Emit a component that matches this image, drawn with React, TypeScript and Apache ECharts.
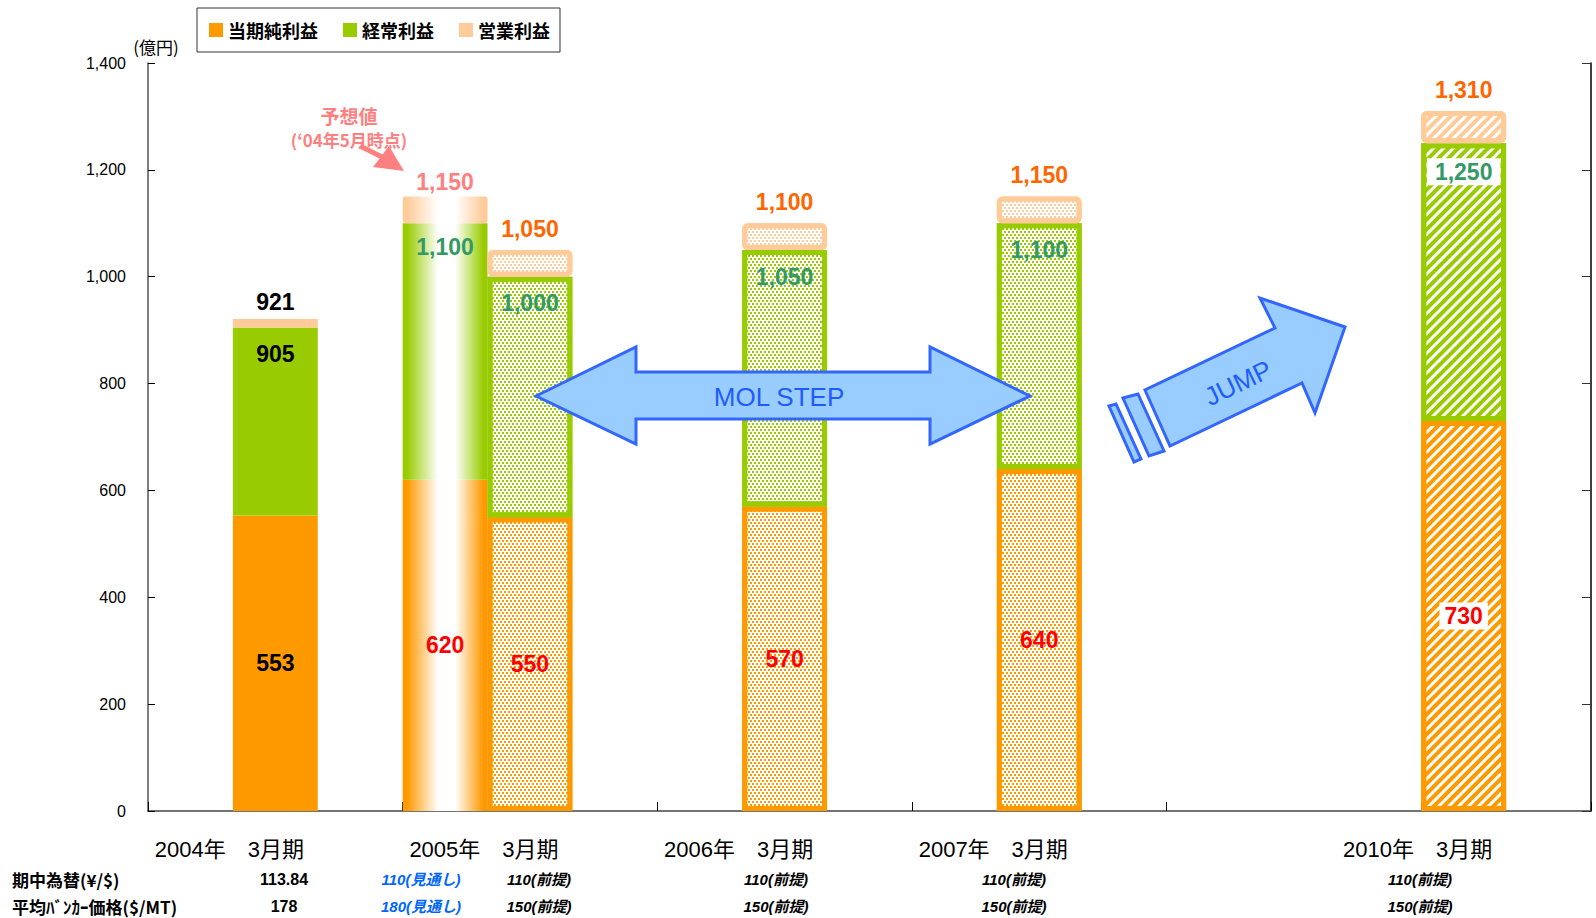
import React, { useEffect, useRef } from 'react';
import * as echarts from 'echarts';

// ---- data ----
const categories = ['', '2004年　3月期', '', '', '2005年　3月期', '', '', '2006年　3月期', '', '', '2007年　3月期', '', '', '', '', '2010年　3月期', ''];
const netProfit = [null, 553, null, 620, 550, null, null, 570, null, null, 640, null, null, null, null, 730, null];
const ordinaryProfit = [null, 905, null, 1100, 1000, null, null, 1050, null, null, 1100, null, null, null, null, 1250, null];
const operatingProfit = [null, 921, null, 1150, 1050, null, null, 1100, null, null, 1150, null, null, null, null, 1310, null];
const seriesNames = ['当期純利益', '経常利益', '営業利益'];
const fxRow = ['113.84', '110(見通し)', '110(前提)', '110(前提)', '110(前提)', '110(前提)'];
const bunkerRow = ['178', '180(見通し)', '150(前提)', '150(前提)', '150(前提)', '150(前提)'];
const rowTitles = ['期中為替(¥/$)', '平均ﾊﾞﾝｶｰ価格($/MT)'];

// ---- styles (kept apart from data) ----
const barKinds = ['', 'solid', '', 'forecast', 'dots', '', '', 'dots', '', '', 'dots', '', '', '', '', 'hatch', ''];
const rowKinds = ['actual', 'outlook', 'premise', 'premise', 'premise', 'premise'];
const rowX = [284, 421, 539, 776, 1014, 1420];
const COLORS = ['#FF9900', '#99CC00', '#FFCC99'];
const LATIN = 'Liberation Sans, Arial, Noto Sans CJK JP, sans-serif';
const CJK = 'Noto Sans CJK JP, sans-serif';

const fmt = (v: number) => v.toLocaleString('en-US');

function itemStyleFor(kind: string, c: string, isCap: boolean): any {
  if (kind === 'solid') return { color: c };
  if (kind === 'forecast') {
    return {
      color: {
        type: 'linear', x: 0, y: 0, x2: 1, y2: 0,
        colorStops: [
          { offset: 0, color: c }, { offset: 0.05, color: c },
          { offset: 0.42, color: '#ffffff' }, { offset: 0.62, color: '#ffffff' },
          { offset: 0.95, color: c }, { offset: 1, color: c },
        ],
      },
      borderRadius: isCap ? 3 : 0,
    };
  }
  if (kind === 'dots') {
    return {
      color: '#ffffff', borderColor: c, borderWidth: 5, borderRadius: isCap ? 3 : 0,
      decal: { symbol: 'rect', symbolSize: 1, color: c, dashArrayX: [[2, 2], [0, 2, 2, 0]], dashArrayY: [2, 1], rotation: 0 },
    };
  }
  return {
    color: '#ffffff', borderColor: c, borderWidth: 5, borderRadius: isCap ? 3 : 0,
    decal: { symbol: 'rect', symbolSize: 1, color: c, dashArrayX: [1, 0], dashArrayY: [4, 3], rotation: -Math.PI / 4 },
  };
}

const labelBase = { fontSize: 23, fontWeight: 'bold', fontFamily: LATIN };

function buildSeries() {
  const net = netProfit.map((v, i) => {
    if (v == null) return null;
    const kind = barKinds[i];
    return {
      value: v,
      itemStyle: itemStyleFor(kind, COLORS[0], false),
      label: {
        show: true, position: 'inside', ...labelBase,
        color: kind === 'solid' ? '#000000' : '#FF0000',
        formatter: fmt(v),
        backgroundColor: kind === 'hatch' ? '#ffffff' : 'transparent',
        padding: kind === 'hatch' ? [2, 5] : 0,
      },
    };
  });
  const ord = ordinaryProfit.map((v, i) => {
    const n = netProfit[i];
    if (v == null || n == null) return null;
    const kind = barKinds[i];
    return {
      value: v - n,
      itemStyle: itemStyleFor(kind, COLORS[1], false),
      label: {
        show: true, position: 'insideTop', distance: kind === 'forecast' ? 12 : 15, ...labelBase,
        color: kind === 'solid' ? '#000000' : '#339966',
        formatter: fmt(v),
        backgroundColor: kind === 'hatch' ? '#ffffff' : 'transparent',
        padding: kind === 'hatch' ? [2, 8] : 0,
      },
    };
  });
  const op = operatingProfit.map((v, i) => {
    const o = ordinaryProfit[i];
    if (v == null || o == null) return null;
    const kind = barKinds[i];
    return {
      value: v - o,
      itemStyle: itemStyleFor(kind, COLORS[2], true),
      label: {
        show: true, position: 'top',
        distance: kind === 'solid' ? 5 : kind === 'forecast' ? 3 : 10, ...labelBase,
        color: kind === 'solid' ? '#000000' : kind === 'forecast' ? '#FF8080' : '#FF6600',
        formatter: fmt(v),
      },
    };
  });
  return [net, ord, op].map((data, k) => ({
    name: seriesNames[k],
    type: 'bar',
    stack: 'profit',
    barCategoryGap: '0%',
    itemStyle: { color: COLORS[k] },
    data,
  }));
}

function buildGraphics() {
  const g: any[] = [];
  g.push({ type: 'text', x: 156, y: 46, style: { text: '(億円)', fontSize: 17, fontFamily: CJK, fill: '#000', align: 'center', verticalAlign: 'middle', textAlign: 'center', textVerticalAlign: 'middle' } });
  // forecast note
  const pink = '#FF8080';
  g.push({ type: 'text', x: 349, y: 115, z: 100, style: { text: '予想値', fontSize: 19, fontWeight: 'bold', fontFamily: CJK, fill: pink, align: 'center', verticalAlign: 'middle', textAlign: 'center', textVerticalAlign: 'middle' } });
  g.push({ type: 'text', x: 349, y: 139, z: 100, style: { text: '(‘04年5月時点)', fontSize: 17, fontWeight: 'bold', fontFamily: CJK, fill: pink, align: 'center', verticalAlign: 'middle', textAlign: 'center', textVerticalAlign: 'middle' } });
  g.push({ type: 'line', z: 100, shape: { x1: 360, y1: 146, x2: 388, y2: 160 }, style: { stroke: pink, lineWidth: 5 } });
  g.push({ type: 'polygon', z: 100, shape: { points: [[404, 171], [373, 167], [389, 146]] }, style: { fill: pink } });
  // MOL STEP double arrow
  const blueFill = '#99CCFF';
  const blueLine = '#3366FF';
  g.push({
    type: 'polygon', z: 100,
    shape: { points: [[536, 396], [636, 347], [636, 372], [930, 372], [930, 347], [1030, 396], [930, 444], [930, 419], [636, 419], [636, 444]] },
    style: { fill: blueFill, stroke: blueLine, lineWidth: 3, lineJoin: 'miter' },
  });
  g.push({ type: 'text', x: 779, y: 397, z: 101, style: { text: 'MOL STEP', fontSize: 26, fontFamily: LATIN, fill: '#1F5CFF', align: 'center', verticalAlign: 'middle', textAlign: 'center', textVerticalAlign: 'middle' } });
  // JUMP arrow
  g.push({
    type: 'polygon', z: 100,
    shape: { points: [[1345, 327], [1260, 298], [1275, 328], [1145, 390], [1170, 446], [1302, 383], [1315, 413]] },
    style: { fill: blueFill, stroke: blueLine, lineWidth: 3, lineJoin: 'miter' },
  });
  g.push({ type: 'polygon', z: 100, shape: { points: [[1123, 398], [1138, 394], [1164, 451], [1149, 456]] }, style: { fill: blueFill, stroke: blueLine, lineWidth: 3 } });
  g.push({ type: 'polygon', z: 100, shape: { points: [[1109, 406], [1116, 404], [1141, 459], [1134, 462]] }, style: { fill: blueFill, stroke: blueLine, lineWidth: 3 } });
  g.push({ type: 'text', x: 1238, y: 383, rotation: 0.45, z: 101, style: { text: 'JUMP', fontSize: 26, fontFamily: LATIN, fill: '#1F5CFF', align: 'center', verticalAlign: 'middle', textAlign: 'center', textVerticalAlign: 'middle' } });
  // table rows
  rowTitles.forEach((t, r) => {
    g.push({ type: 'text', x: 12, y: 879 + r * 27, style: { text: t, fontSize: 17, fontWeight: 'bold', fontFamily: CJK, fill: '#000', align: 'left', verticalAlign: 'middle', textAlign: 'left', textVerticalAlign: 'middle' } });
  });
  [fxRow, bunkerRow].forEach((row, r) => {
    row.forEach((t, i) => {
      const kind = rowKinds[i];
      g.push({
        type: 'text', x: rowX[i], y: 879 + r * 27,
        style: {
          text: t, fontSize: kind === 'actual' ? 16 : 15, fontWeight: 'bold',
          fontStyle: kind === 'actual' ? 'normal' : 'italic',
          fontFamily: LATIN, fill: kind === 'outlook' ? '#0066FF' : '#000',
          align: 'center', verticalAlign: 'middle', textAlign: 'center', textVerticalAlign: 'middle',
        },
      });
    });
  });
  return g;
}

export default function App() {
  const ref = useRef<HTMLDivElement>(null);
  useEffect(() => {
    if (!ref.current) return;
    const chart = echarts.init(ref.current, null, { renderer: 'svg' });
    const option: any = {
      animation: false,
      backgroundColor: '#ffffff',
      textStyle: { fontFamily: LATIN },
      legend: {
        data: seriesNames,
        left: 197, top: 8,
        icon: 'rect', itemWidth: 14, itemHeight: 14, itemGap: 25,
        borderColor: '#333', borderWidth: 1,
        padding: [13, 10, 13, 12],
        selectedMode: false,
        textStyle: { fontSize: 18, fontWeight: 'bold', fontFamily: CJK, color: '#000' },
      },
      grid: { left: 148, right: 5, top: 63, bottom: 107, containLabel: false, outerBoundsMode: 'none' },
      xAxis: {
        type: 'category',
        data: categories,
        boundaryGap: true,
        axisLine: { lineStyle: { color: '#444', width: 1.5 } },
        axisTick: { show: true, inside: true, length: 9, interval: (i: number) => i % 3 === 0, lineStyle: { color: '#000' } },
        axisLabel: {
          interval: 0, margin: 26,
          formatter: (v: string) => (v ? `{y|${v}}` : ''),
          rich: { y: { fontSize: 22, lineHeight: 24, fontFamily: LATIN, color: '#000', padding: [0, 92, 0, 0] } },
        },
      },
      yAxis: [
        {
          type: 'value', min: 0, max: 1400, interval: 200,
          axisLine: { show: true, lineStyle: { color: '#555', width: 1.5 } },
          axisTick: { show: true, inside: true, length: 7, lineStyle: { color: '#000' } },
          splitLine: { show: false },
          axisLabel: { margin: 22, fontSize: 16, color: '#000', fontFamily: LATIN, formatter: (v: number) => fmt(v) },
        },
        {
          type: 'value', min: 0, max: 1400, interval: 200, position: 'right',
          axisLine: { show: true, lineStyle: { color: '#000', width: 1.5 } },
          axisTick: { show: true, inside: true, length: 9, lineStyle: { color: '#333' } },
          splitLine: { show: false },
          axisLabel: { show: false },
        },
      ],
      series: buildSeries(),
      graphic: buildGraphics(),
    };
    chart.setOption(option);
    return () => chart.dispose();
  }, []);
  return <div ref={ref} style={{ position: 'fixed', left: 0, top: 0, width: 1596, height: 918 }} />;
}
